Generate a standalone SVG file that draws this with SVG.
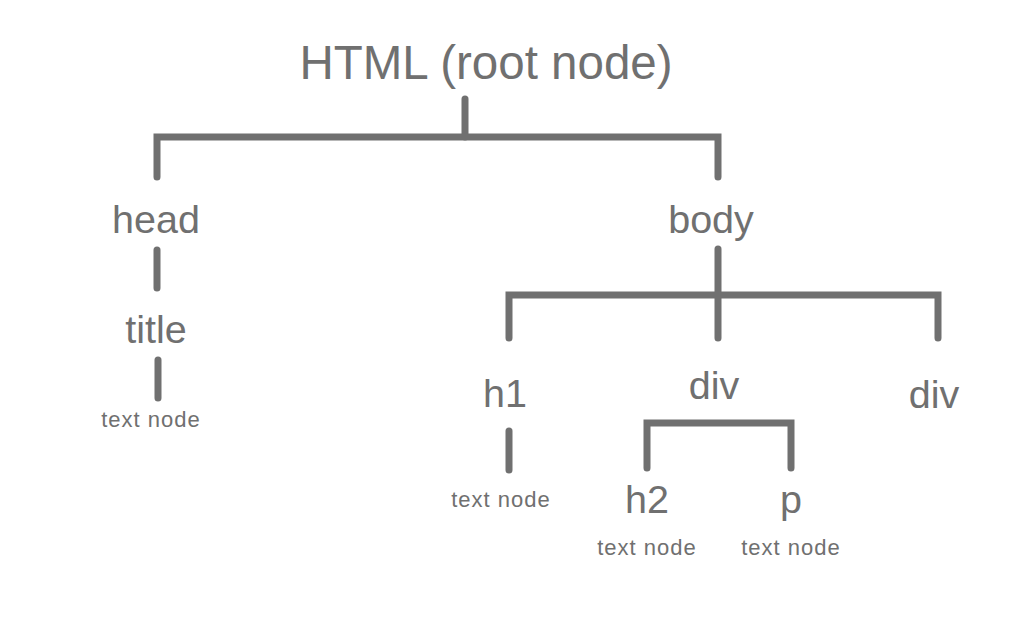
<svg xmlns="http://www.w3.org/2000/svg" width="1012" height="630" viewBox="0 0 1012 630">
<style>
.l{fill:none;stroke:#707070;stroke-width:7;stroke-linecap:round;stroke-linejoin:miter}
text{font-family:"Liberation Sans",Arial,sans-serif;fill:#707070;text-anchor:middle}
.big{font-size:39.5px}
.root{font-size:47.5px}
.small{font-size:22px;letter-spacing:1px}
</style>
<rect width="1012" height="630" fill="#ffffff"/>
<g id="connectors">
<path class="l" d="M465 99 V137"/>
<path class="l" d="M157 177 V137 H718 V177"/>
<path class="l" d="M157 250 V288"/>
<path class="l" d="M158 360 V398"/>
<path class="l" d="M718 249 V338"/>
<path class="l" d="M509 338 V295 H938 V338"/>
<path class="l" d="M509 431 V470"/>
<path class="l" d="M647 468 V423 H791 V468"/>
</g>
<g id="html"><text class="root" x="486" y="79">HTML (root node)</text></g>
<g id="head"><text class="big" x="156" y="233">head</text></g>
<g id="body"><text class="big" x="711" y="233">body</text></g>
<g id="title"><text class="big" x="156" y="343">title</text></g>
<g id="title-text"><text class="small" x="151" y="427">text node</text></g>
<g id="h1"><text class="big" x="505" y="407">h1</text></g>
<g id="div1"><text class="big" x="714" y="399">div</text></g>
<g id="div2"><text class="big" x="934" y="408">div</text></g>
<g id="h1-text"><text class="small" x="501" y="507">text node</text></g>
<g id="h2"><text class="big" x="647" y="513">h2</text></g>
<g id="p"><text class="big" x="791" y="513">p</text></g>
<g id="h2-text"><text class="small" x="647" y="555">text node</text></g>
<g id="p-text"><text class="small" x="791" y="555">text node</text></g>
</svg>
